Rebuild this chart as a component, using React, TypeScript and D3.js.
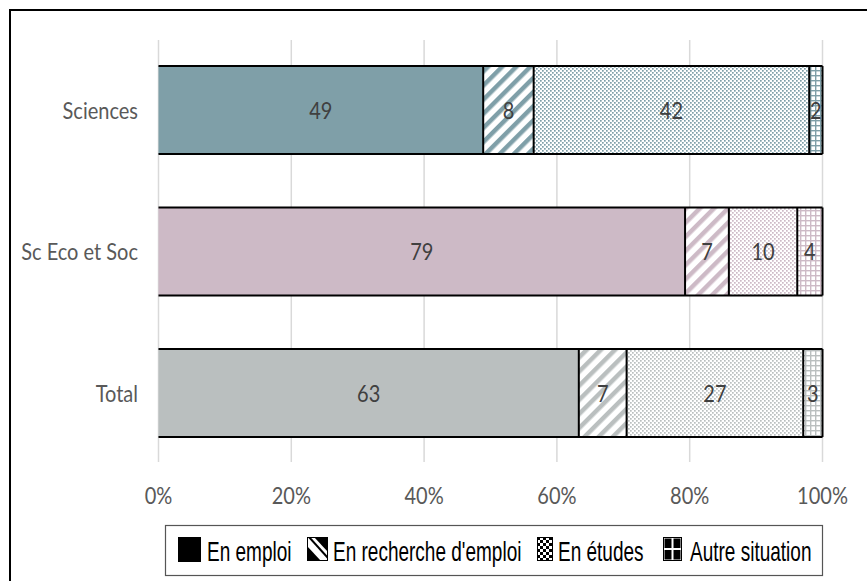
import React from "react";
import * as d3 from "d3";

const categories = ["Sciences", "Sc Eco et Soc", "Total"];
const seriesNames = ["En emploi", "En recherche d'emploi", "En études", "Autre situation"];
const enEmploi = [48.9, 79.3, 63.3];
const enRecherche = [7.6, 6.6, 7.2];
const enEtudes = [41.5, 10.3, 26.6];
const autreSituation = [2.0, 3.8, 2.9];
const tickValues = [0, 20, 40, 60, 80, 100];
const tickLabels = ["0%", "20%", "40%", "60%", "80%", "100%"];

const catColors = ["#7f9fa8", "#cdbac6", "#babfbf"];
const seriesValues = [enEmploi, enRecherche, enEtudes, autreSituation];
const patternKinds = ["solid", "stripe", "dots", "grid"];

const W = 867;
const H = 581;
const CHART_FONT = "Lato, 'Open Sans', sans-serif";
const LEGEND_FONT = "'Liberation Sans', Arial, sans-serif";
const SY = 1.15;

export default function App() {
  const x = d3.scaleLinear().domain([0, 100]).range([158.5, 822.5]);
  const y = d3
    .scaleBand<string>()
    .domain(categories)
    .range([40, 463])
    .paddingInner(0.378)
    .paddingOuter(0.184);
  const bw = y.bandwidth();
  const fmt = d3.format(".0f");

  const stack = d3
    .stack<number>()
    .keys(d3.range(seriesNames.length).map(String))
    .value((i, k) => seriesValues[+k][i]);
  const stacked = stack(d3.range(categories.length));

  const fillFor = (s: number, c: number) =>
    s === 0 ? catColors[c] : `url(#p-${patternKinds[s]}-${c})`;

  const legendItems = [
    { tx: 207, ix: 178, iw: 23 },
    { tx: 333, ix: 307, iw: 21 },
    { tx: 558, ix: 537, iw: 16 },
    { tx: 690, ix: 663, iw: 19 },
  ];

  return (
    <svg
      width={W}
      height={H}
      style={{ position: "absolute", left: 0, top: 0, background: "#fff" }}
    >
      <defs>
        {catColors.map((col, c) => (
          <React.Fragment key={c}>
            <pattern
              id={`p-stripe-${c}`}
              patternUnits="userSpaceOnUse"
              width={10}
              height={10}
              patternTransform="rotate(45)"
            >
              <rect width={10} height={10} fill="#fff" />
              <rect x={0} y={0} width={4.5} height={10} fill={col} />
            </pattern>
            <pattern id={`p-dots-${c}`} patternUnits="userSpaceOnUse" width={4} height={4}>
              <rect width={4} height={4} fill="#fff" />
              <rect x={0} y={0} width={1.7} height={1.7} fill={col} />
              <rect x={2} y={2} width={1.7} height={1.7} fill={col} />
            </pattern>
            <pattern id={`p-grid-${c}`} patternUnits="userSpaceOnUse" width={5} height={5}>
              <rect width={5} height={5} fill="#fff" />
              <rect x={0} y={0} width={5} height={1.4} fill={col} />
              <rect x={0} y={0} width={1.4} height={5} fill={col} />
            </pattern>
          </React.Fragment>
        ))}
        <pattern id="leg-checker" patternUnits="userSpaceOnUse" width={6} height={6} x={537} y={537}>
          <rect width={6} height={6} fill="#fff" />
          <rect width={3} height={3} fill="#000" />
          <rect x={3} y={3} width={3} height={3} fill="#000" />
        </pattern>
        <clipPath id="leg-stripe-clip">
          <rect x={307} y={537} width={21} height={24} />
        </clipPath>
      </defs>

      {/* outer frame */}
      <rect x={10} y={10} width={900} height={620} fill="none" stroke="#000" strokeWidth={2} />

      {/* gridlines */}
      {tickValues.map((t) => (
        <line key={t} x1={x(t)} x2={x(t)} y1={40} y2={462} stroke="#d9d9d9" strokeWidth={1.5} />
      ))}

      {/* bars */}
      {stacked.map((layer, s) =>
        layer.map((d, c) => {
          const cat = categories[c];
          const y0 = y(cat)!;
          return (
            <rect
              key={`${s}-${c}`}
              x={x(d[0])}
              y={y0}
              width={x(d[1]) - x(d[0])}
              height={bw}
              fill={fillFor(s, c)}
            />
          );
        })
      )}
      {/* bar outlines */}
      {categories.map((cat, c) => {
        const y0 = y(cat)!;
        return (
          <g key={cat} stroke="#000" strokeWidth={2} fill="none">
            <line x1={x(0)} x2={x(100)} y1={y0} y2={y0} />
            <line x1={x(0)} x2={x(100)} y1={y0 + bw} y2={y0 + bw} />
            {stacked.map((layer, s) => (
              <line key={s} x1={x(layer[c][1])} x2={x(layer[c][1])} y1={y0} y2={y0 + bw} />
            ))}
          </g>
        );
      })}

      {/* data labels */}
      {stacked.map((layer, s) =>
        layer.map((d, c) => {
          const cx = (x(d[0]) + x(d[1])) / 2;
          const cy = y(categories[c])! + bw / 2;
          return (
            <text
              key={`l-${s}-${c}`}
              transform={`translate(${cx},${cy}) scale(1,${SY})`}
              textAnchor="middle"
              dominantBaseline="central"
              fontFamily={CHART_FONT}
              fontSize={20}
              fill="#404040"
            >
              {fmt(seriesValues[s][c])}
            </text>
          );
        })
      )}

      {/* category labels */}
      {categories.map((cat) => (
        <text
          key={cat}
          transform={`translate(138,${y(cat)! + bw / 2}) scale(1,${SY})`}
          textAnchor="end"
          dominantBaseline="central"
          fontFamily={CHART_FONT}
          fontSize={20}
          fill="#595959"
        >
          {cat}
        </text>
      ))}

      {/* tick labels */}
      {tickValues.map((t, i) => (
        <text
          key={t}
          transform={`translate(${x(t)},${495}) scale(1,${SY})`}
          textAnchor="middle"
          dominantBaseline="central"
          fontFamily={CHART_FONT}
          fontSize={20}
          fill="#595959"
        >
          {tickLabels[i]}
        </text>
      ))}

      {/* legend */}
      <rect x={165.5} y={525.5} width={657} height={50} fill="#fff" stroke="#555" strokeWidth={1.2} />
      <rect x={legendItems[0].ix} y={537} width={legendItems[0].iw} height={25} fill="#000" />
      <g clipPath="url(#leg-stripe-clip)">
        <rect x={307} y={537} width={21} height={24} fill="#fff" />
        <polygon points="314,537 328,537 328,552" fill="#000" />
        <polygon points="307,546 307,561 321,561" fill="#000" />
        <line x1={309} y1={537} x2={328} y2={558} stroke="#000" strokeWidth={2} />
      </g>
      <rect x={307.5} y={537.5} width={20} height={23} fill="none" stroke="#000" strokeWidth={1} />
      <rect x={537.5} y={537.5} width={15} height={23} fill="url(#leg-checker)" stroke="#000" strokeWidth={1} />
      <rect x={663} y={537} width={19} height={24} fill="#000" />
      <rect x={664} y={538} width={17} height={22} fill="none" stroke="#fff" strokeWidth={1} />
      <rect x={671.5} y={538} width={2} height={22} fill="#fff" />
      <rect x={664} y={548} width={17} height={2} fill="#fff" />
      <rect x={663.5} y={537.5} width={18} height={23} fill="none" stroke="#000" strokeWidth={1} />
      {seriesNames.map((name, i) => (
        <text
          key={name}
          transform={`translate(${legendItems[i].tx},561) scale(1,1.5)`}
          fontFamily={LEGEND_FONT}
          fontSize={19}
          fill="#000"
        >
          {name}
        </text>
      ))}
    </svg>
  );
}
